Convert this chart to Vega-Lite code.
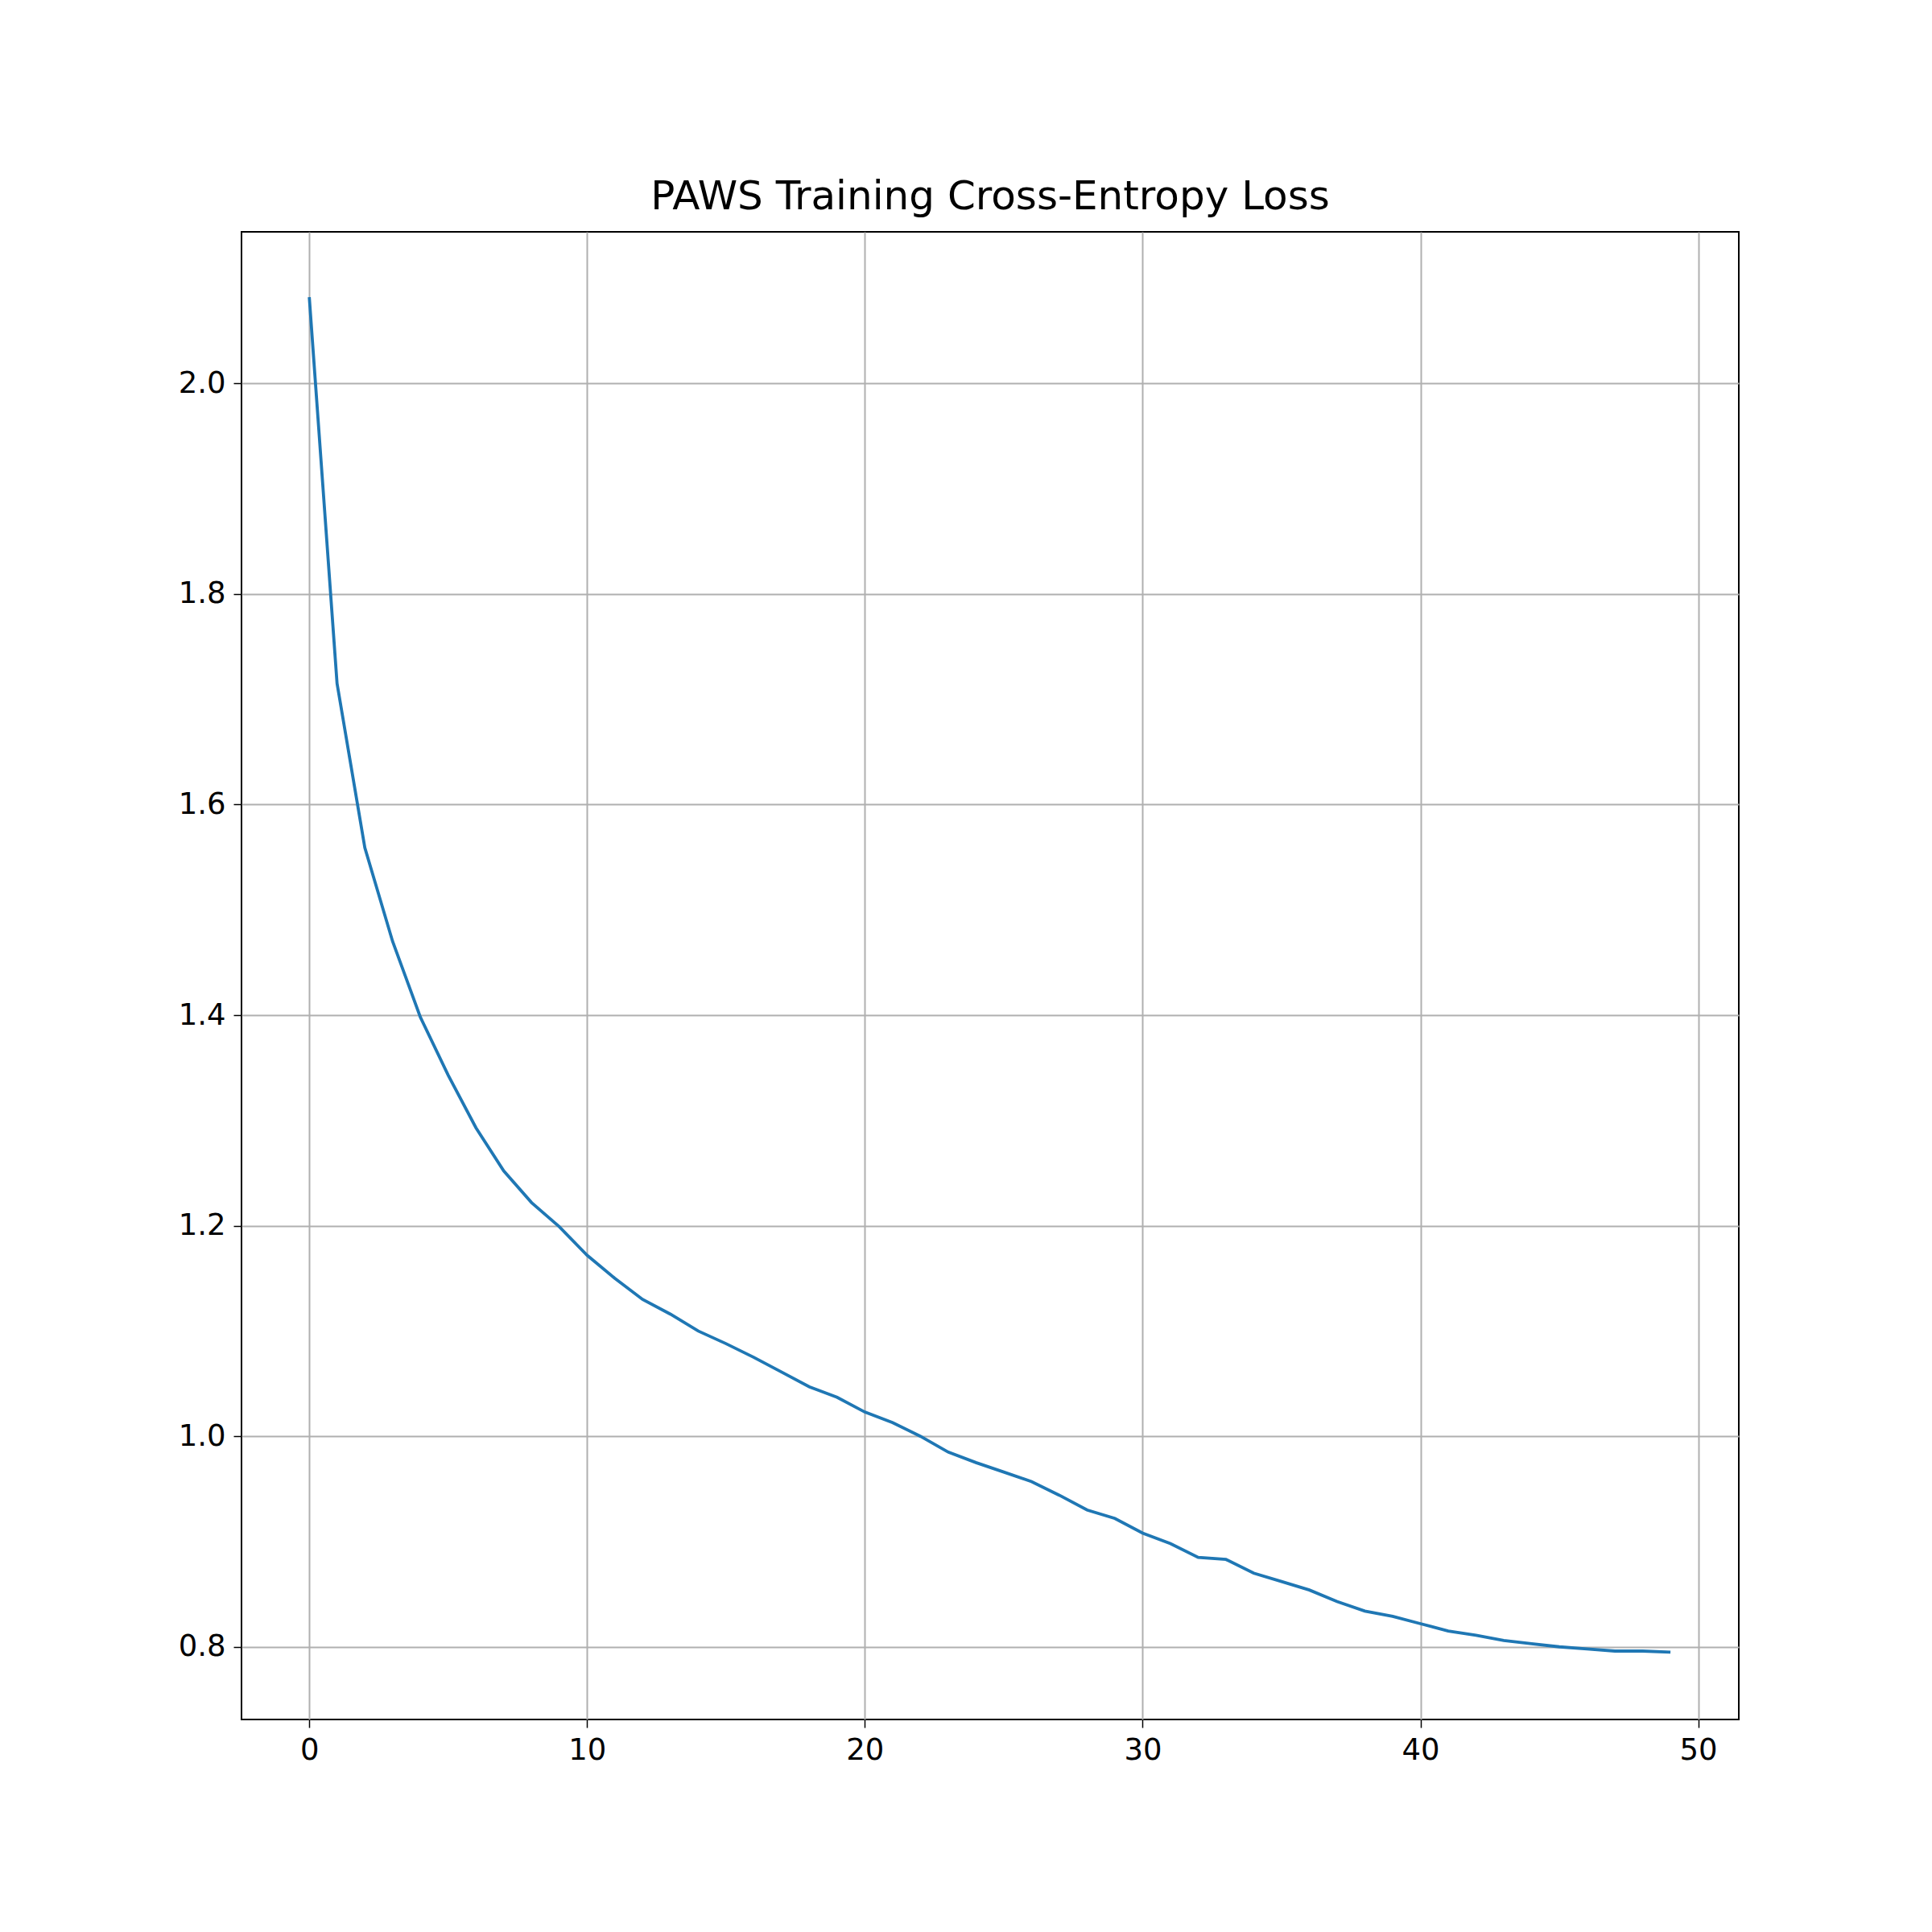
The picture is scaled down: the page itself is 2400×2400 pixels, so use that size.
{
  "$schema": "https://vega.github.io/schema/vega-lite/v6.json",
  "width": 1860,
  "height": 1848,
  "autosize": {"type": "none"},
  "padding": {"left": 300, "top": 288, "right": 240, "bottom": 264},
  "background": "white",
  "title": {"text": "PAWS Training Cross-Entropy Loss", "fontSize": 50, "font": "DejaVu Sans", "fontWeight": "normal", "offset": 18, "color": "black"},
  "config": {
    "view": {"stroke": "black", "strokeWidth": 2},
    "axis": {"labelFont": "DejaVu Sans", "labelFontSize": 37, "labelColor": "black", "tickColor": "black", "tickSize": 10, "tickWidth": 1.5, "domain": false, "grid": true, "gridColor": "#b0b0b0", "gridWidth": 2, "labelPadding": 10, "title": null}
  },
  "data": {"values": [
    {"epoch": 0, "loss": 2.082}, {"epoch": 1, "loss": 1.715}, {"epoch": 2, "loss": 1.559}, {"epoch": 3, "loss": 1.470},
    {"epoch": 4, "loss": 1.398}, {"epoch": 5, "loss": 1.343}, {"epoch": 6, "loss": 1.293}, {"epoch": 7, "loss": 1.252},
    {"epoch": 8, "loss": 1.222}, {"epoch": 9, "loss": 1.199}, {"epoch": 10, "loss": 1.172}, {"epoch": 11, "loss": 1.150},
    {"epoch": 12, "loss": 1.130}, {"epoch": 13, "loss": 1.116}, {"epoch": 14, "loss": 1.100}, {"epoch": 15, "loss": 1.088},
    {"epoch": 16, "loss": 1.075}, {"epoch": 17, "loss": 1.061}, {"epoch": 18, "loss": 1.047}, {"epoch": 19, "loss": 1.037},
    {"epoch": 20, "loss": 1.023}, {"epoch": 21, "loss": 1.013}, {"epoch": 22, "loss": 1.000}, {"epoch": 23, "loss": 0.985},
    {"epoch": 24, "loss": 0.975}, {"epoch": 25, "loss": 0.966}, {"epoch": 26, "loss": 0.957}, {"epoch": 27, "loss": 0.944},
    {"epoch": 28, "loss": 0.930}, {"epoch": 29, "loss": 0.922}, {"epoch": 30, "loss": 0.908}, {"epoch": 31, "loss": 0.898},
    {"epoch": 32, "loss": 0.885}, {"epoch": 33, "loss": 0.883}, {"epoch": 34, "loss": 0.870}, {"epoch": 35, "loss": 0.862},
    {"epoch": 36, "loss": 0.854}, {"epoch": 37, "loss": 0.843}, {"epoch": 38, "loss": 0.834}, {"epoch": 39, "loss": 0.829},
    {"epoch": 40, "loss": 0.822}, {"epoch": 41, "loss": 0.815}, {"epoch": 42, "loss": 0.811}, {"epoch": 43, "loss": 0.806},
    {"epoch": 44, "loss": 0.803}, {"epoch": 45, "loss": 0.800}, {"epoch": 46, "loss": 0.798}, {"epoch": 47, "loss": 0.796},
    {"epoch": 48, "loss": 0.796}, {"epoch": 49, "loss": 0.795}
  ]},
  "mark": {"type": "line", "color": "#1f77b4", "strokeWidth": 3.8},
  "encoding": {
    "x": {"field": "epoch", "type": "quantitative", "scale": {"domain": [-2.44, 51.46], "nice": false, "zero": false}, "axis": {"values": [0, 10, 20, 30, 40, 50], "format": "d"}},
    "y": {"field": "loss", "type": "quantitative", "scale": {"domain": [0.731, 2.144], "nice": false, "zero": false}, "axis": {"values": [0.8, 1.0, 1.2, 1.4, 1.6, 1.8, 2.0], "format": ".1f"}}
  }
}
